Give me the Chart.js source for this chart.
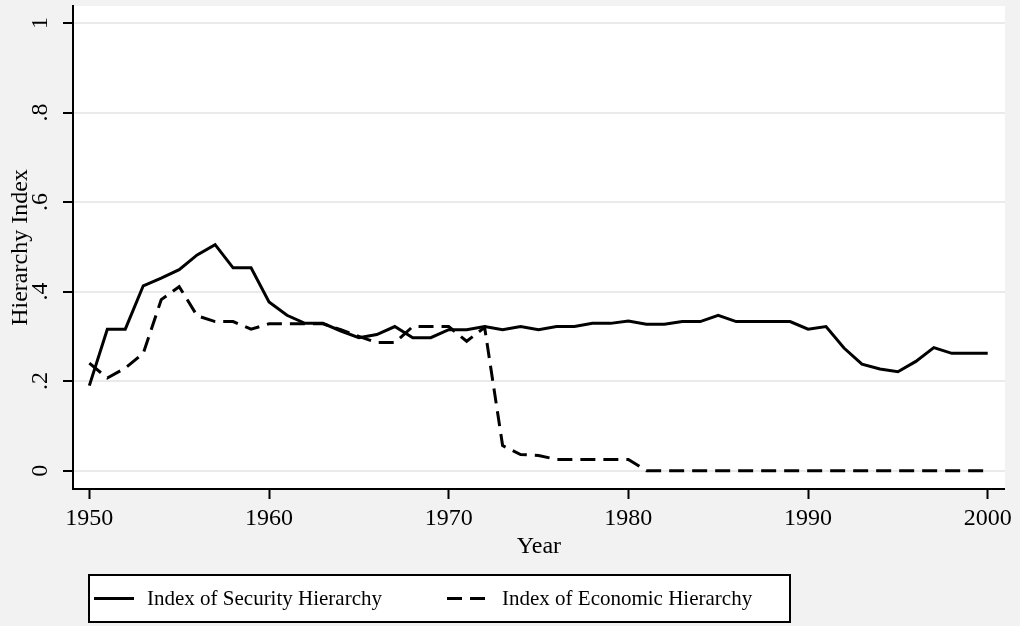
<!DOCTYPE html>
<html>
<head>
<meta charset="utf-8">
<script src="https://cdn.jsdelivr.net/npm/chart.js@4.4.0/dist/chart.umd.min.js"></script>
<style>
    html, body { margin: 0; padding: 0; background: #f2f2f2; }
    #wrap { position: relative; width: 1020px; height: 626px; }
</style>
</head>
<body>
<div id="wrap"><canvas id="hierarchy-chart" width="1020" height="626"></canvas></div>
<script>
// Dados
const years = [
    1950, 1951, 1952, 1953, 1954, 1955, 1956, 1957, 1958, 1959,
    1960, 1961, 1962, 1963, 1964, 1965, 1966, 1967, 1968, 1969,
    1970, 1971, 1972, 1973, 1974, 1975, 1976, 1977, 1978, 1979,
    1980, 1981, 1982, 1983, 1984, 1985, 1986, 1987, 1988, 1989,
    1990, 1991, 1992, 1993, 1994, 1995, 1996, 1997, 1998, 1999,
    2000
];
const securityHierarchy = [
    0.190, 0.316, 0.316, 0.413, 0.430, 0.449, 0.482, 0.505, 0.453, 0.453,
    0.377, 0.347, 0.329, 0.329, 0.312, 0.297, 0.304, 0.322, 0.297, 0.297,
    0.315, 0.315, 0.322, 0.315, 0.322, 0.315, 0.322, 0.322, 0.329, 0.329,
    0.334, 0.327, 0.327, 0.333, 0.333, 0.347, 0.333, 0.333, 0.333, 0.333,
    0.316, 0.322, 0.274, 0.238, 0.227, 0.221, 0.244, 0.275, 0.262, 0.262,
    0.262
];
const economicHierarchy = [
    0.240, 0.207, 0.229, 0.262, 0.382, 0.411, 0.346, 0.333, 0.333, 0.316,
    0.328, 0.328, 0.328, 0.328, 0.315, 0.300, 0.286, 0.286, 0.322, 0.322,
    0.322, 0.289, 0.320, 0.056, 0.036, 0.034, 0.025, 0.025, 0.025, 0.025,
    0.025, 0.000, 0.000, 0.000, 0.000, 0.000, 0.000, 0.000, 0.000, 0.000,
    0.000, 0.000, 0.000, 0.000, 0.000, 0.000, 0.000, 0.000, 0.000, 0.000,
    0.000
];
const seriesLabels = ['Index of Security Hierarchy', 'Index of Economic Hierarchy'];
const xTickValues = [1950, 1960, 1970, 1980, 1990, 2000];
const yTickValues = [0, 0.2, 0.4, 0.6, 0.8, 1];
const yTickLabels = ['0', '.2', '.4', '.6', '.8', '1'];

const SERIF = '"Liberation Serif", "Times New Roman", serif';

/**
 * Fundo branco da área de plotagem
 */
const plotBackground = {
    id: 'plotBackground',
    beforeDraw(chart) {
        const { ctx, chartArea: a } = chart;
        ctx.save();
        ctx.fillStyle = '#ffffff';
        ctx.fillRect(a.left, a.top, a.right - a.left, a.bottom - a.top);
        ctx.restore();
    }
};

/**
 * Rótulos do eixo Y girados 90 graus (estilo Stata)
 */
const rotatedYTicks = {
    id: 'rotatedYTicks',
    afterDraw(chart) {
        const { ctx } = chart;
        const scale = chart.scales.y;
        ctx.save();
        ctx.fillStyle = '#000';
        ctx.font = '24px ' + SERIF;
        ctx.textAlign = 'center';
        ctx.textBaseline = 'middle';
        yTickValues.forEach((v, i) => {
            const py = scale.getPixelForValue(v);
            ctx.save();
            ctx.translate(41, py);
            ctx.rotate(-Math.PI / 2);
            ctx.fillText(yTickLabels[i], 0, 0);
            ctx.restore();
        });
        ctx.restore();
    }
};

/**
 * Legenda em caixa abaixo do gráfico
 */
const boxedLegend = {
    id: 'boxedLegend',
    afterDraw(chart, args, opts) {
        const { ctx } = chart;
        const box = opts.box;
        ctx.save();
        ctx.fillStyle = '#ffffff';
        ctx.fillRect(box.left, box.top, box.width, box.height);
        ctx.strokeStyle = '#000';
        ctx.lineWidth = 2;
        ctx.strokeRect(box.left + 1, box.top + 1, box.width - 2, box.height - 2);

        const cy = box.top + box.height / 2;
        ctx.font = '21px ' + SERIF;
        ctx.textBaseline = 'middle';
        ctx.textAlign = 'left';
        chart.data.datasets.forEach((ds, i) => {
            const kx = opts.keyX[i];
            ctx.strokeStyle = ds.borderColor;
            ctx.lineWidth = ds.borderWidth;
            ctx.setLineDash(ds.borderDash || []);
            ctx.beginPath();
            ctx.moveTo(kx, cy);
            ctx.lineTo(kx + opts.keyWidth, cy);
            ctx.stroke();
            ctx.setLineDash([]);
            ctx.fillStyle = '#000';
            ctx.fillText(ds.label, opts.textX[i], cy + 1);
        });
        ctx.restore();
    }
};

function buildSeries(values) {
    return years.map((yr, i) => ({ x: yr, y: values[i] }));
}

function createHierarchyChart() {
    const ctx = document.getElementById('hierarchy-chart');

    new Chart(ctx, {
        type: 'line',
        data: {
            datasets: [
                {
                    label: seriesLabels[0],
                    data: buildSeries(securityHierarchy),
                    borderColor: '#000',
                    borderWidth: 3,
                    pointRadius: 0,
                    tension: 0,
                    fill: false
                },
                {
                    label: seriesLabels[1],
                    data: buildSeries(economicHierarchy),
                    borderColor: '#000',
                    borderWidth: 3,
                    borderDash: [15, 8],
                    pointRadius: 0,
                    tension: 0,
                    fill: false
                }
            ]
        },
        options: {
            responsive: false,
            animation: false,
            events: [],
            layout: { padding: { left: 0, right: 15, top: 6, bottom: 67 } },
            plugins: {
                legend: { display: false },
                tooltip: { enabled: false },
                boxedLegend: {
                    box: { left: 88, top: 574, width: 703, height: 49 },
                    keyX: [94, 447],
                    keyWidth: 40,
                    textX: [147, 502]
                }
            },
            scales: {
                x: {
                    type: 'linear',
                    min: 1949.09,
                    max: 2000.96,
                    afterBuildTicks: s => { s.ticks = xTickValues.map(v => ({ value: v })); },
                    afterFit: s => { s.height = 70; },
                    grid: {
                        drawOnChartArea: false,
                        drawTicks: true,
                        tickLength: 10,
                        tickWidth: 2,
                        tickColor: '#000'
                    },
                    border: { display: true, color: '#000', width: 2 },
                    ticks: {
                        color: '#000',
                        font: { family: SERIF, size: 24, lineHeight: 1 },
                        padding: 8,
                        maxRotation: 0,
                        autoSkip: false,
                        callback: v => String(v)
                    },
                    title: {
                        display: true,
                        text: 'Year',
                        color: '#000',
                        font: { family: SERIF, size: 24, lineHeight: 1 },
                        padding: { top: 0, bottom: 0 }
                    }
                },
                y: {
                    min: -0.041,
                    max: 1.038,
                    afterBuildTicks: s => { s.ticks = yTickValues.map(v => ({ value: v })); },
                    afterFit: s => { s.width = 73; },
                    grid: {
                        color: '#eaeaea',
                        lineWidth: 2,
                        tickLength: 10,
                        tickWidth: 2,
                        tickColor: '#000'
                    },
                    border: { display: true, color: '#000', width: 2 },
                    ticks: { display: false },
                    title: {
                        display: true,
                        text: 'Hierarchy Index',
                        color: '#000',
                        font: { family: SERIF, size: 24, lineHeight: 1 },
                        padding: { top: 9, bottom: 0 }
                    }
                }
            }
        },
        plugins: [plotBackground, rotatedYTicks, boxedLegend]
    });
}

createHierarchyChart();
</script>
</body>
</html>
